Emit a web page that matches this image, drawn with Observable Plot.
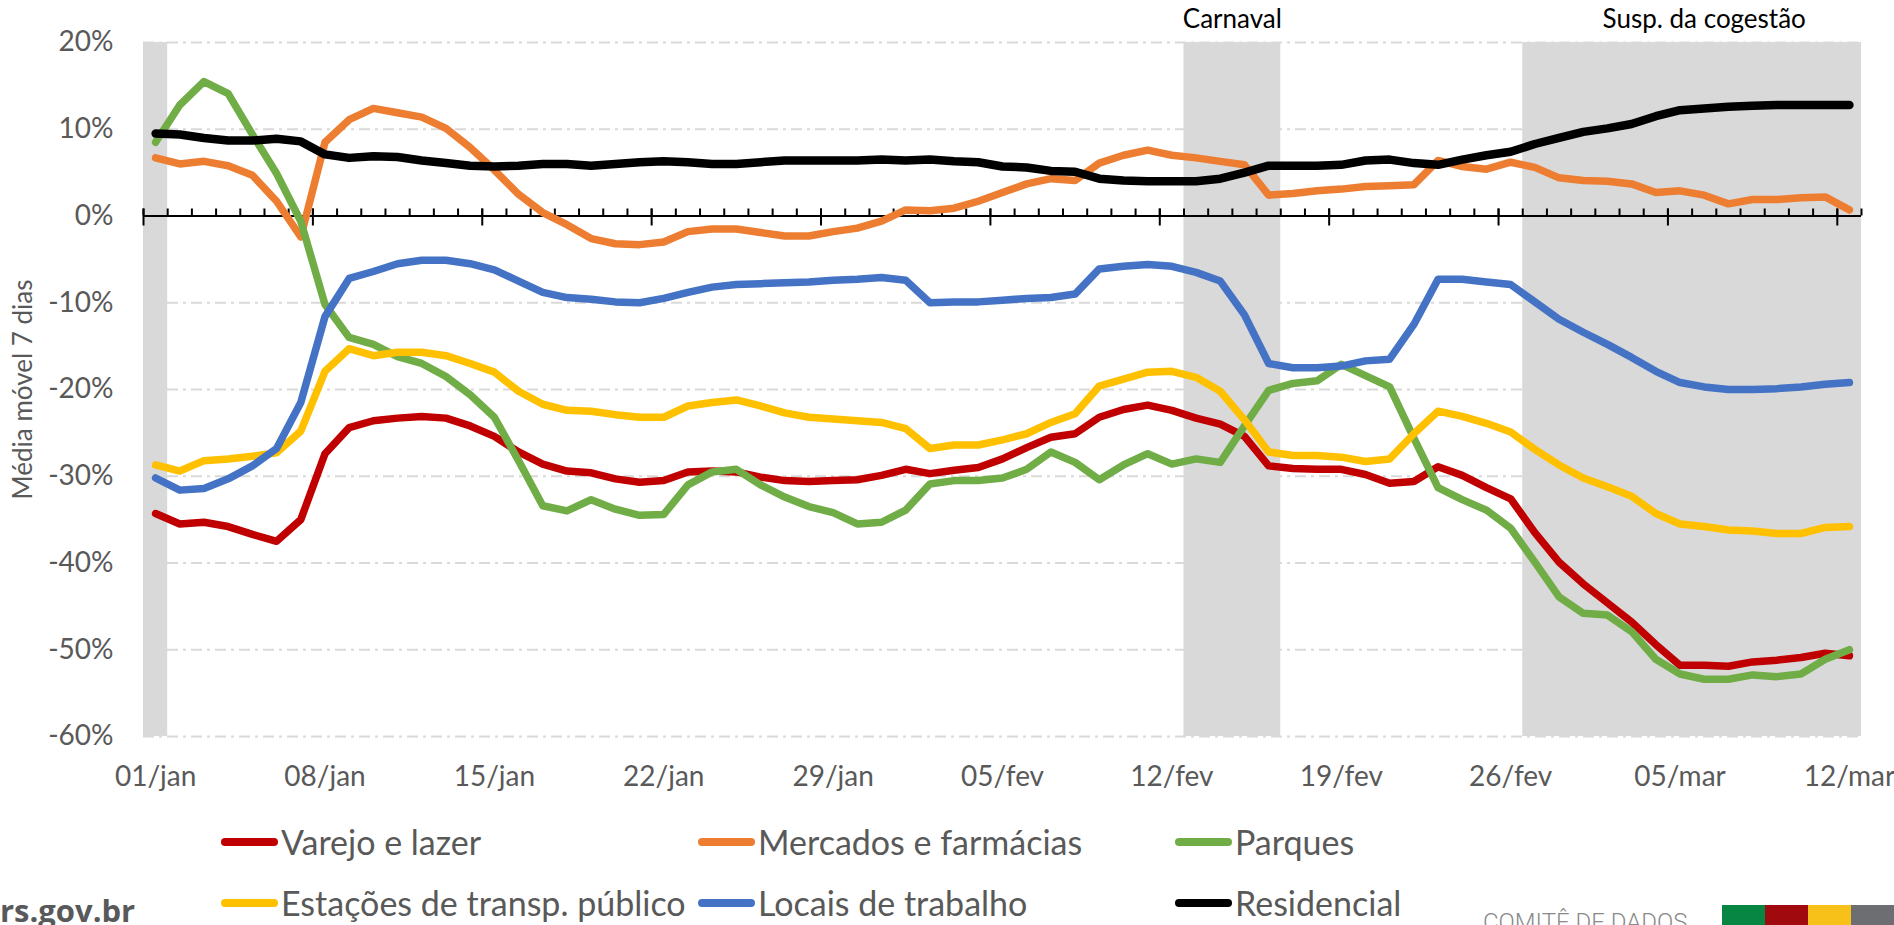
<!DOCTYPE html>
<html>
<head>
<meta charset="utf-8">
<script src="https://cdn.jsdelivr.net/npm/d3@7"></script>
<script src="https://cdn.jsdelivr.net/npm/@observablehq/plot@0.6"></script>
<style>
  body { margin: 0; background: #fff; }
  #wrap { position: relative; width: 1894px; height: 925px; overflow: hidden; background: #fff; font-family: Lato, sans-serif; }
  #chart { position: absolute; left: 0; top: 0; }
  .item { position: absolute; display: flex; align-items: center; height: 44px; transform: translateY(-50%); white-space: nowrap; }
  .sw { display: inline-block; width: 57px; height: 8px; border-radius: 4px; margin-right: 3px; }
  .lb { font-size: 34px; color: #595959; line-height: 1; }
  #site { position: absolute; left: 0; top: 895px; font-family: "Open Sans", sans-serif; font-weight: 700; font-size: 31px; line-height: 31px; color: #58595b; }
  #comite { position: absolute; left: 1483px; top: 910px; font-family: Roboto, sans-serif; font-weight: 300; font-size: 24px; line-height: 24px; color: #8a8a8a; white-space: nowrap; }
  .blk { position: absolute; top: 905px; height: 20px; }
</style>
</head>
<body>
<div id="wrap">
  <div id="chart"></div>
  <div id="legend"></div>
  <div id="site">rs.gov.br</div>
  <div id="comite">COMITÊ DE DADOS</div>
  <div id="blocks"></div>
</div>
<script>
// ---- data ----
const firstDay = "2021-01-01";
const lastDay = "2021-03-12";

const seriesNames = ["Varejo e lazer", "Mercados e farmácias", "Parques", "Estações de transp. público", "Locais de trabalho", "Residencial"];
const seriesColors = ["#c00000", "#ed7d31", "#70ad47", "#ffc000", "#4472c4", "#000000"];

const varejo = [-34.3,-35.5,-35.3,-35.8,-36.7,-37.5,-35.0,-27.4,-24.4,-23.6,-23.3,-23.1,-23.3,-24.2,-25.4,-27.2,-28.6,-29.4,-29.6,-30.3,-30.7,-30.5,-29.5,-29.4,-29.5,-30.1,-30.5,-30.6,-30.5,-30.4,-29.9,-29.2,-29.7,-29.3,-29.0,-28.0,-26.7,-25.5,-25.1,-23.2,-22.3,-21.8,-22.4,-23.3,-24.0,-25.4,-28.8,-29.1,-29.2,-29.2,-29.8,-30.8,-30.6,-28.9,-29.9,-31.3,-32.6,-36.5,-39.9,-42.4,-44.6,-46.8,-49.4,-51.8,-51.8,-51.9,-51.4,-51.2,-50.9,-50.4,-50.7];
const mercados = [6.7,6.0,6.3,5.8,4.7,1.7,-2.4,8.5,11.1,12.4,11.9,11.4,10.1,7.9,5.3,2.5,0.4,-1.0,-2.6,-3.2,-3.3,-3.0,-1.8,-1.5,-1.5,-1.9,-2.3,-2.3,-1.8,-1.4,-0.6,0.7,0.6,0.9,1.7,2.7,3.7,4.3,4.1,6.1,7.0,7.6,7.0,6.7,6.3,5.9,2.4,2.6,2.9,3.1,3.4,3.5,3.6,6.4,5.7,5.4,6.2,5.6,4.4,4.1,4.0,3.7,2.7,2.9,2.4,1.4,1.9,1.9,2.1,2.2,0.7];
const parques = [8.5,12.8,15.5,14.1,9.4,4.9,-0.6,-10.2,-14.0,-14.8,-16.2,-17.0,-18.5,-20.6,-23.2,-28.2,-33.4,-34.0,-32.7,-33.8,-34.5,-34.4,-31.0,-29.5,-29.2,-31.0,-32.4,-33.5,-34.2,-35.5,-35.3,-33.9,-30.9,-30.5,-30.5,-30.2,-29.2,-27.2,-28.4,-30.4,-28.7,-27.4,-28.6,-28.0,-28.4,-24.2,-20.1,-19.3,-19.0,-17.1,-18.4,-19.7,-25.6,-31.3,-32.7,-33.9,-36.0,-39.9,-43.9,-45.8,-46.0,-47.9,-51.1,-52.8,-53.4,-53.4,-52.9,-53.1,-52.8,-51.1,-50.0];
const estacoes = [-28.7,-29.4,-28.2,-28.0,-27.7,-27.3,-24.8,-17.9,-15.3,-16.1,-15.7,-15.7,-16.1,-17.0,-18.0,-20.2,-21.7,-22.4,-22.5,-22.9,-23.2,-23.2,-21.9,-21.5,-21.2,-21.9,-22.7,-23.2,-23.4,-23.6,-23.8,-24.5,-26.8,-26.4,-26.4,-25.8,-25.1,-23.8,-22.8,-19.6,-18.8,-18.0,-17.9,-18.6,-20.2,-23.5,-27.2,-27.6,-27.6,-27.8,-28.3,-28.0,-25.1,-22.5,-23.1,-23.9,-24.9,-26.9,-28.7,-30.2,-31.2,-32.3,-34.3,-35.5,-35.8,-36.2,-36.3,-36.6,-36.6,-35.9,-35.8];
const locais = [-30.2,-31.6,-31.4,-30.3,-28.8,-26.8,-21.5,-11.6,-7.2,-6.4,-5.5,-5.1,-5.1,-5.5,-6.2,-7.5,-8.8,-9.4,-9.6,-9.9,-10.0,-9.5,-8.8,-8.2,-7.9,-7.8,-7.7,-7.6,-7.4,-7.3,-7.1,-7.4,-10.0,-9.9,-9.9,-9.7,-9.5,-9.4,-9.0,-6.1,-5.8,-5.6,-5.8,-6.5,-7.5,-11.4,-17.0,-17.5,-17.5,-17.3,-16.7,-16.5,-12.5,-7.3,-7.3,-7.6,-7.9,-9.9,-11.9,-13.4,-14.8,-16.3,-17.9,-19.2,-19.7,-20.0,-20.0,-19.9,-19.7,-19.4,-19.2];
const residencial = [9.5,9.4,9.0,8.7,8.7,8.9,8.6,7.1,6.7,6.9,6.8,6.4,6.1,5.8,5.7,5.8,6.0,6.0,5.8,6.0,6.2,6.3,6.2,6.0,6.0,6.2,6.4,6.4,6.4,6.4,6.5,6.4,6.5,6.3,6.2,5.7,5.6,5.2,5.1,4.3,4.1,4.0,4.0,4.0,4.3,5.0,5.8,5.8,5.8,5.9,6.4,6.5,6.1,5.9,6.5,7.0,7.4,8.3,9.0,9.7,10.1,10.6,11.5,12.2,12.4,12.6,12.7,12.8,12.8,12.8,12.8];
const seriesValues = [varejo, mercados, parques, estacoes, locais, residencial];

const yTicks = [20, 10, 0, -10, -20, -30, -40, -50, -60];
const xTickLabels = ["01/jan","08/jan","15/jan","22/jan","29/jan","05/fev","12/fev","19/fev","26/fev","05/mar","12/mar"];
const monthNames = ["jan", "fev", "mar"];

const bandStarts = ["2021-01-01", "2021-02-13", "2021-02-27"];
const bandEnds   = ["2021-01-01", "2021-02-16", "2021-03-12"];
const annotationLabels = ["Carnaval", "Susp. da cogestão"];
const annotationDates = ["2021-02-14T12:00Z", "2021-03-06T00:00Z"];

const yTitle = "Média móvel 7 dias";

// ---- derived tables ----
const dates = d3.utcDay.range(new Date(firstDay), d3.utcDay.offset(new Date(lastDay), 1));
const HALF = 12 * 3600e3;
const before = d => new Date(+d - HALF);
const after = d => new Date(+d + HALF);

const labelDates = xTickLabels.map(s => {
  const [dd, mm] = s.split("/");
  return new Date(Date.UTC(2021, monthNames.indexOf(mm), +dd));
});
const labelOf = new Map(labelDates.map((d, i) => [+d, xTickLabels[i]]));

const bounds = dates.map(before).concat([after(dates[dates.length - 1])]);
const majorBounds = labelDates.map(before);

const rows = dates.flatMap((d, i) => seriesNames.map((s, k) => ({date: d, series: s, value: seriesValues[k][i]})));
const bands = bandStarts.map((s, i) => ({x1: before(new Date(s)), x2: after(new Date(bandEnds[i]))}));
const annotations = annotationLabels.map((t, i) => ({text: t, date: new Date(annotationDates[i])}));

const yDomain = [-60, 20];

const chart = Plot.plot({
  width: 1894,
  height: 800,
  marginLeft: 143,
  marginRight: 33,
  marginTop: 42,
  marginBottom: 64,
  style: {fontFamily: "Lato, sans-serif", fontSize: "28px", color: "#595959", background: "transparent", overflow: "visible"},
  x: {type: "utc", domain: [bounds[0], bounds[bounds.length - 1]], ticks: labelDates, tickFormat: d => labelOf.get(+d), tickSize: 0, tickPadding: 30, label: null},
  y: {domain: yDomain, ticks: yTicks, tickFormat: d => d + "%", tickSize: 0, tickPadding: 30, label: null},
  marks: [
    Plot.ruleY(yTicks.filter(v => v !== 0), {stroke: "#d9d9d9", strokeWidth: 2, strokeDasharray: "11,5,3,5"}),
    Plot.rect(bands, {x1: "x1", x2: "x2", y1: yDomain[0], y2: yDomain[1], fill: "#d9d9d9"}),
    Plot.ruleY([0], {stroke: "#000", strokeWidth: 2}),
    Plot.ruleX(bounds, {x: d => d, y1: 0, y2: 0, insetTop: -7, insetBottom: 0, stroke: "#000", strokeWidth: 2}),
    Plot.ruleX(majorBounds, {x: d => d, y1: 0, y2: 0, insetTop: -7, insetBottom: -10, stroke: "#000", strokeWidth: 2}),
    ...seriesNames.map((s, k) => Plot.line(rows.filter(r => r.series === s), {
      x: "date", y: "value", stroke: seriesColors[k],
      strokeWidth: k === 5 ? 8.5 : 7.5, strokeLinecap: "round", strokeLinejoin: "round"
    })),
    Plot.text(annotations, {x: "date", y: yDomain[1], text: "text", dy: -23, fill: "#000", fontSize: 26}),
    Plot.text([yTitle], {frameAnchor: "left", textAnchor: "middle", rotate: -90, dx: -120, fontSize: 26, fill: "#595959"})
  ]
});
document.getElementById("chart").appendChild(chart);

// ---- legend ----
const legend = document.getElementById("legend");
seriesNames.forEach((name, k) => {
  const col = k % 3, row = Math.floor(k / 3);
  const item = document.createElement("div");
  item.className = "item";
  item.style.left = (221 + col * 477) + "px";
  item.style.top = (842 + row * 61) + "px";
  const sw = document.createElement("span");
  sw.className = "sw";
  sw.style.background = seriesColors[k];
  const lb = document.createElement("span");
  lb.className = "lb";
  lb.textContent = name;
  item.appendChild(sw);
  item.appendChild(lb);
  legend.appendChild(item);
});

// ---- logo blocks ----
const blockColors = ["#078543", "#a0090e", "#f8c11a", "#6d6e71"];
const blocks = document.getElementById("blocks");
blockColors.forEach((c, i) => {
  const b = document.createElement("div");
  b.className = "blk";
  b.style.left = (1722 + i * 43) + "px";
  b.style.width = "43px";
  b.style.background = c;
  blocks.appendChild(b);
});
</script>
</body>
</html>
